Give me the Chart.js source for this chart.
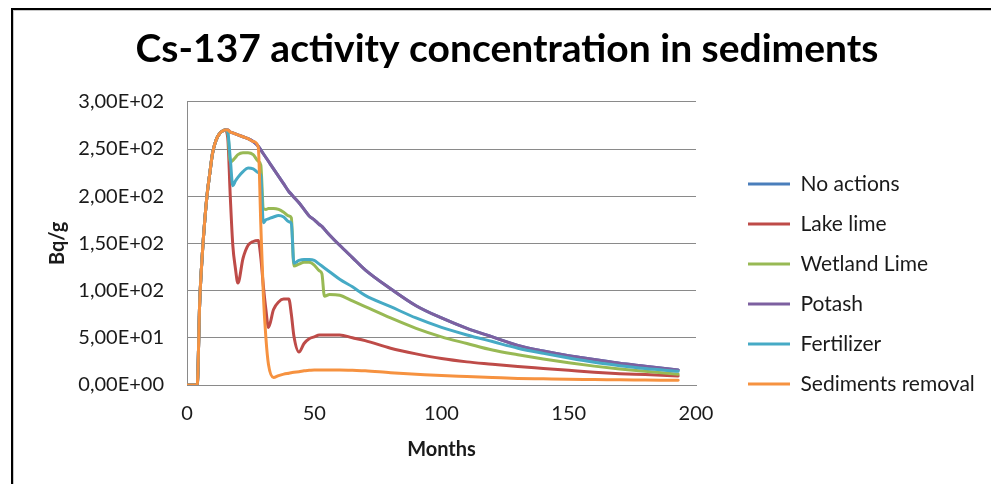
<!DOCTYPE html>
<html>
<head>
<meta charset="utf-8">
<script src="https://cdn.jsdelivr.net/npm/chart.js@4.4.1/dist/chart.umd.min.js"></script>
<style>
  html, body { margin: 0; padding: 0; background: #fff; overflow: hidden; }
  #wrap { position: relative; width: 991px; height: 484px; overflow: hidden; }
  #frame {
    position: absolute; left: 11px; top: 8px; right: -20px; bottom: -20px;
    border-top: 2px solid #000; border-left: 2px solid #000;
    box-shadow: inset 1px 1px 0 #c8c8c8; pointer-events: none;
  }
  canvas { position: absolute; left: 0; top: 0; }
</style>
</head>
<body>
<div id="wrap">
  <canvas id="diagram" width="1015" height="484"></canvas>
  <div id="frame"></div>
</div>
<script>
// månader (x) som värdena är avlästa vid
const months = [0, 4, 5, 6, 7, 8, 9, 10, 11, 12, 13, 14, 15, 16, 17, 18, 19, 20, 22, 24,
  26, 28, 29, 30, 31, 32, 34, 36, 38, 40, 41, 42, 44, 46, 48, 50, 52, 53, 54, 56,
  60, 65, 70, 80, 90, 100, 110, 120, 130, 140, 150, 160, 170, 180, 193];

// Bq/g per serie
const noActions = [0, 0, 88, 138, 175, 204, 225, 245, 256, 263, 267, 269, 270, 270, 268, 267, 266, 265, 263, 261,
  258, 253, 249, 245, 241, 237, 229, 221, 213, 205, 202, 199, 193, 186, 179, 175, 170, 168, 165, 159,
  148, 135, 122, 102, 84, 71, 60, 51, 42, 36, 31, 27, 23, 20, 16];
const lakeLime = [0, 0, 88, 138, 175, 204, 225, 245, 256, 263, 267, 269, 270, 262, 200, 148, 124, 108, 134, 148,
  152, 153, 135, 105, 80, 61, 80, 88, 91, 91, 75, 52, 35, 44, 49, 51, 53, 53, 53, 53,
  53, 50, 47, 39, 33, 28, 24.5, 22, 19.5, 17.5, 15.5, 13.5, 12, 11, 9.5];
const wetlandLime = [0, 0, 88, 138, 175, 204, 225, 245, 256, 263, 267, 269, 270, 268, 236, 238, 241, 244, 246, 246,
  244, 237, 233, 187, 186, 187, 187, 186, 183, 179, 177, 126, 128, 130, 130, 127, 121, 118, 94, 96,
  95, 89, 83, 71, 60, 51, 44, 37, 32, 27.5, 23.5, 20, 17, 14.5, 11.5];
const potash = [0, 0, 88, 138, 175, 204, 225, 245, 256, 263, 267, 269, 270, 270, 268, 267, 266, 265, 263, 261,
  258, 253, 249, 245, 241, 237, 229, 221, 213, 205, 202, 199, 193, 186, 179, 175, 170, 168, 165, 159,
  148, 135, 122, 102, 84, 71, 60, 51, 42, 36, 31, 27, 23, 20, 16];
const fertilizer = [0, 0, 88, 138, 175, 204, 225, 245, 256, 263, 267, 269, 270, 268, 240, 211, 216, 220, 226, 230,
  229, 225, 222, 172, 175, 176, 178, 179.5, 178, 173, 171, 129, 132, 133, 133, 132, 128, 126, 124, 120,
  112, 104, 95, 83, 71, 61, 53, 46, 39, 33.5, 28.5, 24, 20.5, 17.5, 14.5];
const sedimentsRemoval = [0, 0, 88, 138, 175, 204, 225, 245, 256, 263, 267, 269, 270, 270, 268, 267, 266, 265, 263, 261,
  258, 252, 170, 95, 50, 22, 8, 10, 11.5, 12.5, 13, 13.5, 14, 15, 15.5, 16, 16, 16, 16, 16,
  16, 15.5, 15, 13, 11.5, 10, 9, 8, 7, 6.5, 6, 5.8, 5.5, 5.3, 5];

const seriesNames = ["No actions", "Lake lime", "Wetland Lime", "Potash", "Fertilizer", "Sediments removal"];
const seriesValues = [noActions, lakeLime, wetlandLime, potash, fertilizer, sedimentsRemoval];
const seriesColors = ["#4A7EBB", "#BE4B48", "#98B954", "#7D60A0", "#46AAC5", "#F69240"];

const yTicks = [0, 50, 100, 150, 200, 250, 300];
const xTicks = [0, 50, 100, 150, 200];

// 300 -> "3,00E+02" som i Excel
function excelSci(v) {
  const parts = Number(v).toExponential(2).split("e");
  const exp = parseInt(parts[1], 10);
  return parts[0].replace(".", ",") + "E" + (exp < 0 ? "-" : "+") + String(Math.abs(exp)).padStart(2, "0");
}

const font = "Lato";
const textColor = "#1a1a1a";
const gridColor = "#8a8a8a";

const datasets = seriesNames.map((name, i) => ({
  label: name,
  data: months.map((m, j) => ({ x: m, y: seriesValues[i][j] })),
  borderColor: seriesColors[i],
  backgroundColor: seriesColors[i],
  borderWidth: 3,
  borderCapStyle: "round",
  borderJoinStyle: "round",
  pointRadius: 0,
  cubicInterpolationMode: "monotone",
  // Excel ritar sista serien överst
  order: seriesNames.length - 1 - i,
}));

// flytta titel och förklaring lite som i originalet
const nudge = {
  id: "nudge",
  afterLayout(chart) {
    const t = chart.titleBlock;
    const l = chart.legend;
    t.left += 33; t.right += 33;
    l.left += 33; l.right = chart.width;
    l.top += 37; l.bottom += 37;
  },
};

const config = {
  type: "line",
  data: { datasets },
  plugins: [nudge],
  options: {
    responsive: false,
    animation: false,
    layout: { padding: { top: 10, left: 30, right: 97, bottom: 0 } },
    plugins: {
      title: {
        display: true,
        text: "Cs-137 activity concentration in sediments",
        color: "#000",
        font: { family: font, size: 39, weight: "bold" },
        padding: { top: 16, bottom: 29 },
      },
      legend: {
        position: "right",
        reverse: true,
        maxWidth: 222,
        labels: {
          color: textColor,
          font: { family: font, size: 21 },
          usePointStyle: true,
          pointStyle: "line",
          pointStyleWidth: 42,
          padding: 19,
        },
      },
      tooltip: { enabled: false },
    },
    scales: {
      x: {
        type: "linear",
        min: xTicks[0],
        max: xTicks[xTicks.length - 1],
        afterBuildTicks: (scale) => { scale.ticks = xTicks.map((v) => ({ value: v })); },
        grid: { display: false, drawTicks: false },
        border: { display: true, color: gridColor, width: 1 },
        ticks: { color: textColor, font: { family: font, size: 20 }, padding: 17, maxRotation: 0 },
        title: {
          display: true,
          text: "Months",
          color: textColor,
          font: { family: font, size: 20, weight: "bold" },
          padding: { top: 0, bottom: 22 },
        },
        afterFit: (scale) => { scale.height = 99; },
      },
      y: {
        min: yTicks[0],
        max: yTicks[yTicks.length - 1],
        afterBuildTicks: (scale) => { scale.ticks = yTicks.map((v) => ({ value: v })); },
        grid: { color: gridColor, lineWidth: 1, drawTicks: false },
        border: { display: true, color: gridColor, width: 1 },
        ticks: { color: textColor, font: { family: font, size: 20 }, padding: 23, callback: excelSci },
        title: {
          display: true,
          text: "Bq/g",
          color: textColor,
          font: { family: font, size: 20, weight: "bold" },
          padding: { top: 16, bottom: 0 },
        },
        afterFit: (scale) => { scale.width = 157; },
      },
    },
  },
};

const canvas = document.getElementById("diagram");
const chart = new Chart(canvas, config);
</script>
</body>
</html>
